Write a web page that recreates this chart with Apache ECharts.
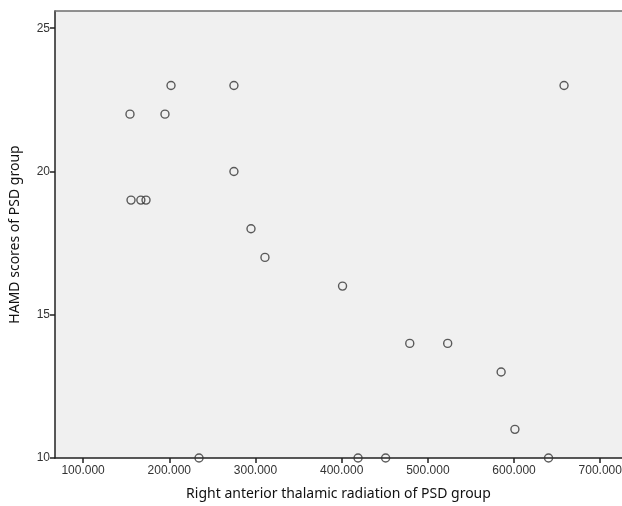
<!DOCTYPE html>
<html>
<head>
<meta charset="utf-8">
<script src="https://cdn.jsdelivr.net/npm/echarts@6/dist/echarts.min.js"></script>
<style>
    html, body { margin: 0; padding: 0; background: #fff; }
    #chart { width: 622px; height: 506px; }
</style>
</head>
<body>
<div id="chart"></div>
<script>
// 数据: 右侧丘脑前辐射 vs HAMD
const xValues = [154400, 202000, 195000, 275000, 155600, 167000, 173000, 275000, 294800, 311000,
    401000, 479000, 523000, 585000, 601000, 658000, 234500, 419000, 451000, 640000];
const yValues = [22, 23, 22, 23, 19, 19, 19, 20, 18, 17,
    16, 14, 14, 13, 11, 23, 10, 10, 10, 10];
const xTicks = [100000, 200000, 300000, 400000, 500000, 600000, 700000];
const yTicks = [10, 15, 20, 25];

function initChart() {
    const myChart = echarts.init(document.getElementById('chart'));
    const titleFont = 'Noto Sans, sans-serif';
    const tickFont = 'Liberation Sans, Arial, sans-serif';

    const option = {
        animation: false,
        backgroundColor: '#ffffff',
        grid: {
            left: 55,
            top: 11,
            right: -6,
            bottom: 48,
            outerBoundsMode: 'none',
            show: true,
            backgroundColor: '#f0f0f0',
            borderWidth: 0
        },
        xAxis: [{
            type: 'value',
            min: 67400,
            max: 732200,
            name: 'Right anterior thalamic radiation of PSD group',
            nameLocation: 'middle',
            nameGap: 29,
            nameTextStyle: { fontFamily: titleFont, fontSize: 14, color: '#111', padding: [0, 6, 0, 0] },
            splitLine: { show: false },
            axisLine: { lineStyle: { color: '#222', width: 1.5 } },
            axisTick: { customValues: xTicks, length: 5, lineStyle: { color: '#222', width: 1.5 } },
            axisLabel: {
                customValues: xTicks,
                margin: 7,
                fontFamily: tickFont,
                fontSize: 12,
                color: '#333',
                formatter: v => (v / 1000).toFixed(3)
            }
        }, {
            // 上边框
            type: 'value',
            position: 'top',
            min: 67400,
            max: 732200,
            splitLine: { show: false },
            axisLine: { show: true, lineStyle: { color: '#6e6e6e', width: 1.5 } },
            axisTick: { show: false },
            axisLabel: { show: false }
        }],
        yAxis: {
            type: 'value',
            min: 10,
            max: 25.6,
            name: 'HAMD scores of PSD group',
            nameLocation: 'middle',
            nameGap: 33,
            nameTextStyle: { fontFamily: titleFont, fontSize: 14, color: '#111' },
            splitLine: { show: false },
            axisLine: { show: true, lineStyle: { color: '#222', width: 1.5 } },
            axisTick: { show: true, customValues: yTicks, length: 5, lineStyle: { color: '#222', width: 1.5 } },
            axisLabel: {
                customValues: yTicks,
                margin: 5,
                fontFamily: tickFont,
                fontSize: 12,
                color: '#333'
            }
        },
        series: [{
            type: 'scatter',
            data: xValues.map((x, i) => [x, yValues[i]]),
            symbol: 'circle',
            symbolSize: 8,
            clip: false,
            itemStyle: {
                color: 'transparent',
                borderColor: '#333',
                borderWidth: 1.4
            }
        }]
    };

    myChart.setOption(option);
}

initChart();
</script>
</body>
</html>
